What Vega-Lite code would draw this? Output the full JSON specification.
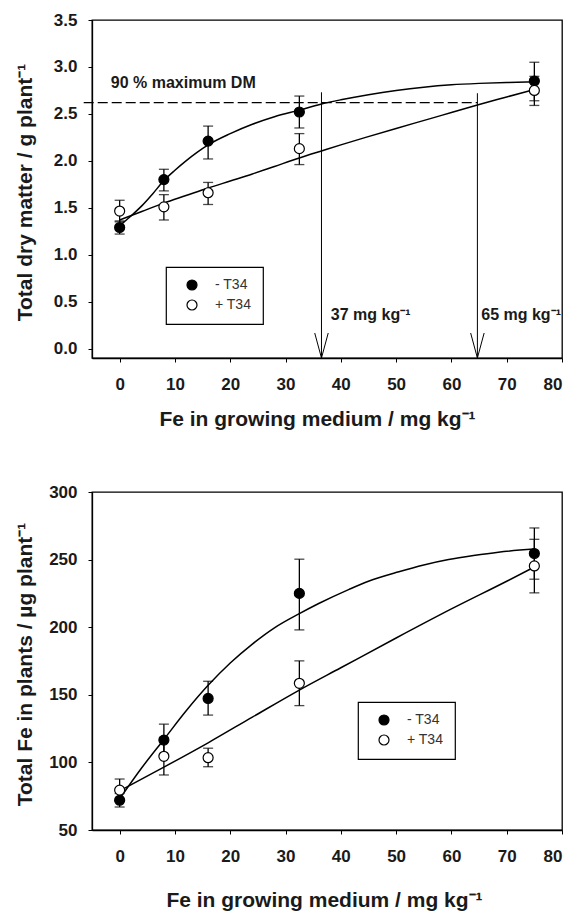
{
  "$schema": "https://vega.github.io/schema/vega-lite/v6.json",
  "autosize": {"type": "none"},
  "padding": {"left": 92, "top": 20, "right": 483, "bottom": 894},
  "background": "white",
  "spacing": 134,
  "bounds": "flush",
  "config": {
    "view": {"stroke": "black", "strokeWidth": 1.3},
    "font": "Liberation Sans",
    "axis": {
      "grid": false,
      "domainColor": "black",
      "domainWidth": 1.3,
      "tickColor": "black",
      "tickSize": 4,
      "tickWidth": 1,
      "labelFont": "Liberation Sans",
      "labelFontSize": 17,
      "labelFontWeight": "bold",
      "labelColor": "#1a1a1a",
      "titleFont": "Liberation Sans",
      "titleFontSize": 21,
      "titleFontWeight": "bold",
      "titleColor": "#1a1a1a"
    },
    "legend": {
      "orient": "none",
      "strokeColor": "black",
      "strokeWidth": 1.2,
      "fillColor": "white",
      "padding": 11,
      "symbolOffset": 8,
      "labelOffset": 16,
      "rowPadding": 4,
      "symbolType": "circle",
      "symbolSize": 100,
      "symbolStrokeColor": "black",
      "symbolStrokeWidth": 1.2,
      "labelFont": "Liberation Sans",
      "labelFontSize": 14,
      "labelFontWeight": "normal",
      "labelColor": "#333333"
    }
  },
  "datasets": {
    "dm_points": [
      {"fe": 0, "dm": 1.29, "lo": 1.22, "hi": 1.36, "treatment": "- T34"},
      {"fe": 8, "dm": 1.80, "lo": 1.68, "hi": 1.91, "treatment": "- T34"},
      {"fe": 16, "dm": 2.21, "lo": 2.02, "hi": 2.37, "treatment": "- T34"},
      {"fe": 32.5, "dm": 2.52, "lo": 2.35, "hi": 2.69, "treatment": "- T34"},
      {"fe": 75, "dm": 2.85, "lo": 2.64, "hi": 3.05, "treatment": "- T34"},
      {"fe": 0, "dm": 1.465, "lo": 1.35, "hi": 1.58, "treatment": "+ T34"},
      {"fe": 8, "dm": 1.51, "lo": 1.37, "hi": 1.64, "treatment": "+ T34"},
      {"fe": 16, "dm": 1.66, "lo": 1.535, "hi": 1.77, "treatment": "+ T34"},
      {"fe": 32.5, "dm": 2.13, "lo": 1.96, "hi": 2.29, "treatment": "+ T34"},
      {"fe": 75, "dm": 2.75, "lo": 2.59, "hi": 2.90, "treatment": "+ T34"}
    ],
    "dm_fit": [
      {"fe": 0, "dm": 1.31, "treatment": "- T34"},
      {"fe": 2, "dm": 1.41, "treatment": "- T34"},
      {"fe": 4, "dm": 1.52, "treatment": "- T34"},
      {"fe": 6, "dm": 1.65, "treatment": "- T34"},
      {"fe": 8, "dm": 1.79, "treatment": "- T34"},
      {"fe": 10, "dm": 1.90, "treatment": "- T34"},
      {"fe": 12, "dm": 2.00, "treatment": "- T34"},
      {"fe": 14, "dm": 2.09, "treatment": "- T34"},
      {"fe": 16, "dm": 2.17, "treatment": "- T34"},
      {"fe": 20, "dm": 2.29, "treatment": "- T34"},
      {"fe": 24, "dm": 2.39, "treatment": "- T34"},
      {"fe": 28, "dm": 2.47, "treatment": "- T34"},
      {"fe": 32.5, "dm": 2.54, "treatment": "- T34"},
      {"fe": 36.5, "dm": 2.605, "treatment": "- T34"},
      {"fe": 40, "dm": 2.65, "treatment": "- T34"},
      {"fe": 45, "dm": 2.705, "treatment": "- T34"},
      {"fe": 50, "dm": 2.75, "treatment": "- T34"},
      {"fe": 55, "dm": 2.785, "treatment": "- T34"},
      {"fe": 60, "dm": 2.81, "treatment": "- T34"},
      {"fe": 65, "dm": 2.825, "treatment": "- T34"},
      {"fe": 70, "dm": 2.835, "treatment": "- T34"},
      {"fe": 75, "dm": 2.84, "treatment": "- T34"},
      {"fe": 0, "dm": 1.37, "treatment": "+ T34"},
      {"fe": 4, "dm": 1.46, "treatment": "+ T34"},
      {"fe": 8, "dm": 1.55, "treatment": "+ T34"},
      {"fe": 12, "dm": 1.63, "treatment": "+ T34"},
      {"fe": 16, "dm": 1.71, "treatment": "+ T34"},
      {"fe": 20, "dm": 1.785, "treatment": "+ T34"},
      {"fe": 24, "dm": 1.86, "treatment": "+ T34"},
      {"fe": 28, "dm": 1.94, "treatment": "+ T34"},
      {"fe": 32.5, "dm": 2.03, "treatment": "+ T34"},
      {"fe": 36.5, "dm": 2.105, "treatment": "+ T34"},
      {"fe": 40, "dm": 2.17, "treatment": "+ T34"},
      {"fe": 44.5, "dm": 2.25, "treatment": "+ T34"},
      {"fe": 50, "dm": 2.345, "treatment": "+ T34"},
      {"fe": 56.5, "dm": 2.455, "treatment": "+ T34"},
      {"fe": 60, "dm": 2.515, "treatment": "+ T34"},
      {"fe": 64.7, "dm": 2.595, "treatment": "+ T34"},
      {"fe": 70, "dm": 2.68, "treatment": "+ T34"},
      {"fe": 75, "dm": 2.76, "treatment": "+ T34"}
    ],
    "dm_ref": [
      {"fe_from": -6.5, "fe_to": 64.7, "dm": 2.62}
    ],
    "dm_arrows": [
      {"fe": 36.5, "top": 2.73, "bottom": -0.1, "label": "37 mg kg⁻¹", "label_fe": 38.2, "label_dm": 0.30},
      {"fe": 64.7, "top": 2.72, "bottom": -0.1, "label": "65 mg kg⁻¹", "label_fe": 65.4, "label_dm": 0.30}
    ],
    "dm_note": [
      {"fe": -1.6, "dm": 2.78, "text": "90 % maximum DM"}
    ],
    "fe_points": [
      {"fe": 0, "tfe": 72, "lo": 67, "hi": 77, "treatment": "- T34"},
      {"fe": 8, "tfe": 116.5, "lo": 105, "hi": 128.3, "treatment": "- T34"},
      {"fe": 16, "tfe": 147.3, "lo": 135, "hi": 160, "treatment": "- T34"},
      {"fe": 32.5, "tfe": 225, "lo": 198, "hi": 250.3, "treatment": "- T34"},
      {"fe": 75, "tfe": 254.5, "lo": 235.5, "hi": 273.4, "treatment": "- T34"},
      {"fe": 0, "tfe": 79.5, "lo": 71.5, "hi": 87.7, "treatment": "+ T34"},
      {"fe": 8, "tfe": 104.5, "lo": 90.7, "hi": 118.5, "treatment": "+ T34"},
      {"fe": 16, "tfe": 103.5, "lo": 96.8, "hi": 110.5, "treatment": "+ T34"},
      {"fe": 32.5, "tfe": 158.5, "lo": 142, "hi": 175.1, "treatment": "+ T34"},
      {"fe": 75, "tfe": 245.3, "lo": 225.4, "hi": 265, "treatment": "+ T34"}
    ],
    "fe_fit": [
      {"fe": 0, "tfe": 73, "treatment": "- T34"},
      {"fe": 4, "tfe": 96, "treatment": "- T34"},
      {"fe": 8, "tfe": 117, "treatment": "- T34"},
      {"fe": 12, "tfe": 138, "treatment": "- T34"},
      {"fe": 16, "tfe": 157, "treatment": "- T34"},
      {"fe": 20, "tfe": 173.5, "treatment": "- T34"},
      {"fe": 24, "tfe": 187.5, "treatment": "- T34"},
      {"fe": 28, "tfe": 199.5, "treatment": "- T34"},
      {"fe": 32.5, "tfe": 210, "treatment": "- T34"},
      {"fe": 36, "tfe": 217.5, "treatment": "- T34"},
      {"fe": 41.5, "tfe": 228, "treatment": "- T34"},
      {"fe": 45, "tfe": 234, "treatment": "- T34"},
      {"fe": 50.5, "tfe": 241, "treatment": "- T34"},
      {"fe": 55, "tfe": 246, "treatment": "- T34"},
      {"fe": 59.5, "tfe": 250, "treatment": "- T34"},
      {"fe": 64, "tfe": 253, "treatment": "- T34"},
      {"fe": 68.5, "tfe": 255.5, "treatment": "- T34"},
      {"fe": 75, "tfe": 257.8, "treatment": "- T34"},
      {"fe": 0, "tfe": 79, "treatment": "+ T34"},
      {"fe": 8, "tfe": 96.5, "treatment": "+ T34"},
      {"fe": 16, "tfe": 114.5, "treatment": "+ T34"},
      {"fe": 24, "tfe": 133.5, "treatment": "+ T34"},
      {"fe": 32.5, "tfe": 153.5, "treatment": "+ T34"},
      {"fe": 40, "tfe": 170, "treatment": "+ T34"},
      {"fe": 50, "tfe": 192, "treatment": "+ T34"},
      {"fe": 60, "tfe": 213.5, "treatment": "+ T34"},
      {"fe": 70, "tfe": 234, "treatment": "+ T34"},
      {"fe": 75, "tfe": 244.5, "treatment": "+ T34"}
    ]
  },
  "vconcat": [
    {
      "width": 470,
      "height": 338,
      "resolve": {"scale": {"fill": "independent"}},
      "layer": [
        {
          "data": {"name": "dm_fit"},
          "mark": {"type": "line", "interpolate": "monotone", "color": "black", "strokeWidth": 1.5},
          "encoding": {
            "x": {
              "field": "fe", "type": "quantitative",
              "scale": {"domain": [-5, 80], "nice": false, "zero": false},
              "axis": {
                "title": "Fe in growing medium / mg kg⁻¹",
                "values": [0, 10, 20, 30, 40, 50, 60, 70, 80],
                "labelPadding": 14,
                "titleX": 225, "titleY": 67, "titleAlign": "center", "titleBaseline": "alphabetic"
              }
            },
            "y": {
              "field": "dm", "type": "quantitative",
              "scale": {"domain": [-0.1, 3.5], "nice": false, "zero": false},
              "axis": {
                "title": "Total dry matter / g plant⁻¹",
                "values": [0, 0.5, 1, 1.5, 2, 2.5, 3, 3.5],
                "format": ".1f",
                "labelPadding": 11,
                "titleX": -61, "titleY": 172, "titleAlign": "center", "titleBaseline": "alphabetic"
              }
            },
            "detail": {"field": "treatment"}
          }
        },
        {
          "data": {"name": "dm_ref"},
          "mark": {"type": "rule", "color": "black", "strokeWidth": 1.2, "strokeDash": [10, 4]},
          "encoding": {
            "x": {"field": "fe_from", "type": "quantitative"},
            "x2": {"field": "fe_to"},
            "y": {"field": "dm", "type": "quantitative"}
          }
        },
        {
          "data": {"name": "dm_arrows"},
          "mark": {"type": "rule", "color": "black", "strokeWidth": 1},
          "encoding": {
            "x": {"field": "fe", "type": "quantitative"},
            "y": {"field": "top", "type": "quantitative"},
            "y2": {"field": "bottom"}
          }
        },
        {
          "data": {"name": "dm_arrows"},
          "mark": {"type": "point", "shape": "M-0.27,-1L0,0L0.27,-1", "size": 2500, "filled": false, "stroke": "black", "strokeWidth": 1, "opacity": 1},
          "encoding": {
            "x": {"field": "fe", "type": "quantitative"},
            "y": {"field": "bottom", "type": "quantitative"}
          }
        },
        {
          "data": {"name": "dm_arrows"},
          "mark": {"type": "text", "align": "left", "baseline": "alphabetic", "font": "Liberation Sans", "fontSize": 16, "fontWeight": "bold", "color": "#1a1a1a"},
          "encoding": {
            "x": {"field": "label_fe", "type": "quantitative"},
            "y": {"field": "label_dm", "type": "quantitative"},
            "text": {"field": "label"}
          }
        },
        {
          "data": {"name": "dm_note"},
          "mark": {"type": "text", "align": "left", "baseline": "alphabetic", "font": "Liberation Sans", "fontSize": 16, "fontWeight": "bold", "color": "#1a1a1a"},
          "encoding": {
            "x": {"field": "fe", "type": "quantitative"},
            "y": {"field": "dm", "type": "quantitative"},
            "text": {"field": "text"}
          }
        },
        {
          "data": {"name": "dm_points"},
          "mark": {"type": "rule", "color": "black", "strokeWidth": 1.3},
          "encoding": {
            "x": {"field": "fe", "type": "quantitative"},
            "y": {"field": "lo", "type": "quantitative"},
            "y2": {"field": "hi"}
          }
        },
        {
          "data": {"name": "dm_points"},
          "mark": {"type": "tick", "orient": "horizontal", "size": 10, "thickness": 1.3, "color": "black"},
          "encoding": {
            "x": {"field": "fe", "type": "quantitative"},
            "y": {"field": "lo", "type": "quantitative"}
          }
        },
        {
          "data": {"name": "dm_points"},
          "mark": {"type": "tick", "orient": "horizontal", "size": 10, "thickness": 1.3, "color": "black"},
          "encoding": {
            "x": {"field": "fe", "type": "quantitative"},
            "y": {"field": "hi", "type": "quantitative"}
          }
        },
        {
          "data": {"name": "dm_points"},
          "mark": {"type": "point", "shape": "circle", "filled": true, "stroke": "black", "strokeWidth": 1.2, "size": 100, "opacity": 1},
          "encoding": {
            "x": {"field": "fe", "type": "quantitative"},
            "y": {"field": "dm", "type": "quantitative"},
            "fill": {
              "field": "treatment", "type": "nominal",
              "scale": {"domain": ["- T34", "+ T34"], "range": ["black", "white"]},
              "legend": {"title": null, "orient": "none", "legendX": 74, "legendY": 247}
            }
          }
        }
      ]
    },
    {
      "width": 470,
      "height": 338,
      "resolve": {"scale": {"fill": "independent"}},
      "layer": [
        {
          "data": {"name": "fe_fit"},
          "mark": {"type": "line", "interpolate": "monotone", "color": "black", "strokeWidth": 1.5},
          "encoding": {
            "x": {
              "field": "fe", "type": "quantitative",
              "scale": {"domain": [-5, 80], "nice": false, "zero": false},
              "axis": {
                "title": "Fe in growing medium / mg kg⁻¹",
                "values": [0, 10, 20, 30, 40, 50, 60, 70, 80],
                "labelPadding": 14,
                "titleX": 232, "titleY": 76, "titleAlign": "center", "titleBaseline": "alphabetic"
              }
            },
            "y": {
              "field": "tfe", "type": "quantitative",
              "scale": {"domain": [50, 300], "nice": false, "zero": false},
              "axis": {
                "title": "Total Fe in plants / µg plant⁻¹",
                "values": [50, 100, 150, 200, 250, 300],
                "labelPadding": 11,
                "titleX": -61, "titleY": 172, "titleAlign": "center", "titleBaseline": "alphabetic"
              }
            },
            "detail": {"field": "treatment"}
          }
        },
        {
          "data": {"name": "fe_points"},
          "mark": {"type": "rule", "color": "black", "strokeWidth": 1.3},
          "encoding": {
            "x": {"field": "fe", "type": "quantitative"},
            "y": {"field": "lo", "type": "quantitative"},
            "y2": {"field": "hi"}
          }
        },
        {
          "data": {"name": "fe_points"},
          "mark": {"type": "tick", "orient": "horizontal", "size": 10, "thickness": 1.3, "color": "black"},
          "encoding": {
            "x": {"field": "fe", "type": "quantitative"},
            "y": {"field": "lo", "type": "quantitative"}
          }
        },
        {
          "data": {"name": "fe_points"},
          "mark": {"type": "tick", "orient": "horizontal", "size": 10, "thickness": 1.3, "color": "black"},
          "encoding": {
            "x": {"field": "fe", "type": "quantitative"},
            "y": {"field": "hi", "type": "quantitative"}
          }
        },
        {
          "data": {"name": "fe_points"},
          "mark": {"type": "point", "shape": "circle", "filled": true, "stroke": "black", "strokeWidth": 1.2, "size": 100, "opacity": 1},
          "encoding": {
            "x": {"field": "fe", "type": "quantitative"},
            "y": {"field": "tfe", "type": "quantitative"},
            "fill": {
              "field": "treatment", "type": "nominal",
              "scale": {"domain": ["- T34", "+ T34"], "range": ["black", "white"]},
              "legend": {"title": null, "orient": "none", "legendX": 266, "legendY": 210}
            }
          }
        }
      ]
    }
  ],
  "resolve": {"scale": {"fill": "independent"}, "legend": {"fill": "independent"}}
}
